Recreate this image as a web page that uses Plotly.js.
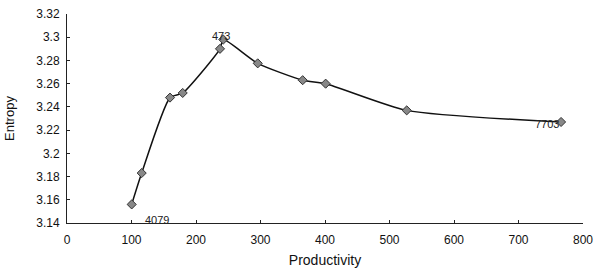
<!DOCTYPE html>
<html><head><meta charset="utf-8">
<script src="https://cdn.plot.ly/plotly-3.0.1.min.js"></script>
<style>html,body{margin:0;padding:0;background:#fff}#c{width:594px;height:273px}</style>
</head><body><div id="c"></div>
<script>
const productivity = [100.3, 115.8, 159.7, 179.4, 237.2, 242.3, 295.7, 365.4, 401, 526.7, 766];
const entropy = [3.156, 3.183, 3.248, 3.252, 3.290, 3.298, 3.2775, 3.263, 3.260, 3.237, 3.227];
const labels = ["4079", "", "", "", "", "473", "", "", "", "", "7703"];
const xTicks = [0, 100, 200, 300, 400, 500, 600, 700, 800];
const yTicks = [3.14, 3.16, 3.18, 3.2, 3.22, 3.24, 3.26, 3.28, 3.3, 3.32];

const font = "Liberation Sans, Arial, sans-serif";
const trace = {
  x: productivity, y: entropy, type: 'scatter', mode: 'lines+markers',
  line: {color: '#111', width: 1.5, shape: 'spline', smoothing: 0.6},
  marker: {symbol: 'diamond', size: 7, color: '#888', line: {color: '#333', width: 1}},
  hoverinfo: 'none'
};
const ann = [];
labels.forEach((t, i) => {
  if (!t) return;
  let ax = 0, ay = 0;
  if (i === 0) { ax = 25; ay = 16; }
  if (i === 5) { ax = -2; ay = -4; }
  if (i === 10) { ax = -14; ay = 2; }
  ann.push({x: productivity[i], y: entropy[i], text: t, showarrow: false,
    xshift: ax, yshift: -ay, font: {family: font, size: 11, color: '#222'}});
});
const layout = {
  width: 594, height: 273,
  margin: {l: 67, r: 11, t: 14, b: 50},
  paper_bgcolor: '#fff', plot_bgcolor: '#fff',
  showlegend: false,
  xaxis: {range: [0, 800], tickvals: xTicks, ticktext: xTicks.map(String),
    showgrid: false, zeroline: false, showline: true, linecolor: '#222', linewidth: 1,
    ticks: 'inside', ticklen: 3, tickcolor: '#222', ticklabelstandoff: 6,
    tickfont: {family: font, size: 12, color: '#111'},
    title: {text: 'Productivity', font: {family: font, size: 14, color: '#111'}, standoff: 8}},
  yaxis: {range: [3.14, 3.32], tickvals: yTicks, ticktext: yTicks.map(v => String(v)),
    showgrid: false, zeroline: false, showline: true, linecolor: '#222', linewidth: 1,
    ticks: 'inside', ticklen: 3, tickcolor: '#222', ticklabelstandoff: 4,
    tickfont: {family: font, size: 12, color: '#111'},
    title: {text: 'Entropy', font: {family: font, size: 13, color: '#111'}, standoff: 18}},
  annotations: ann
};
Plotly.newPlot('c', [trace], layout, {staticPlot: true, displayModeBar: false});
</script></body></html>
